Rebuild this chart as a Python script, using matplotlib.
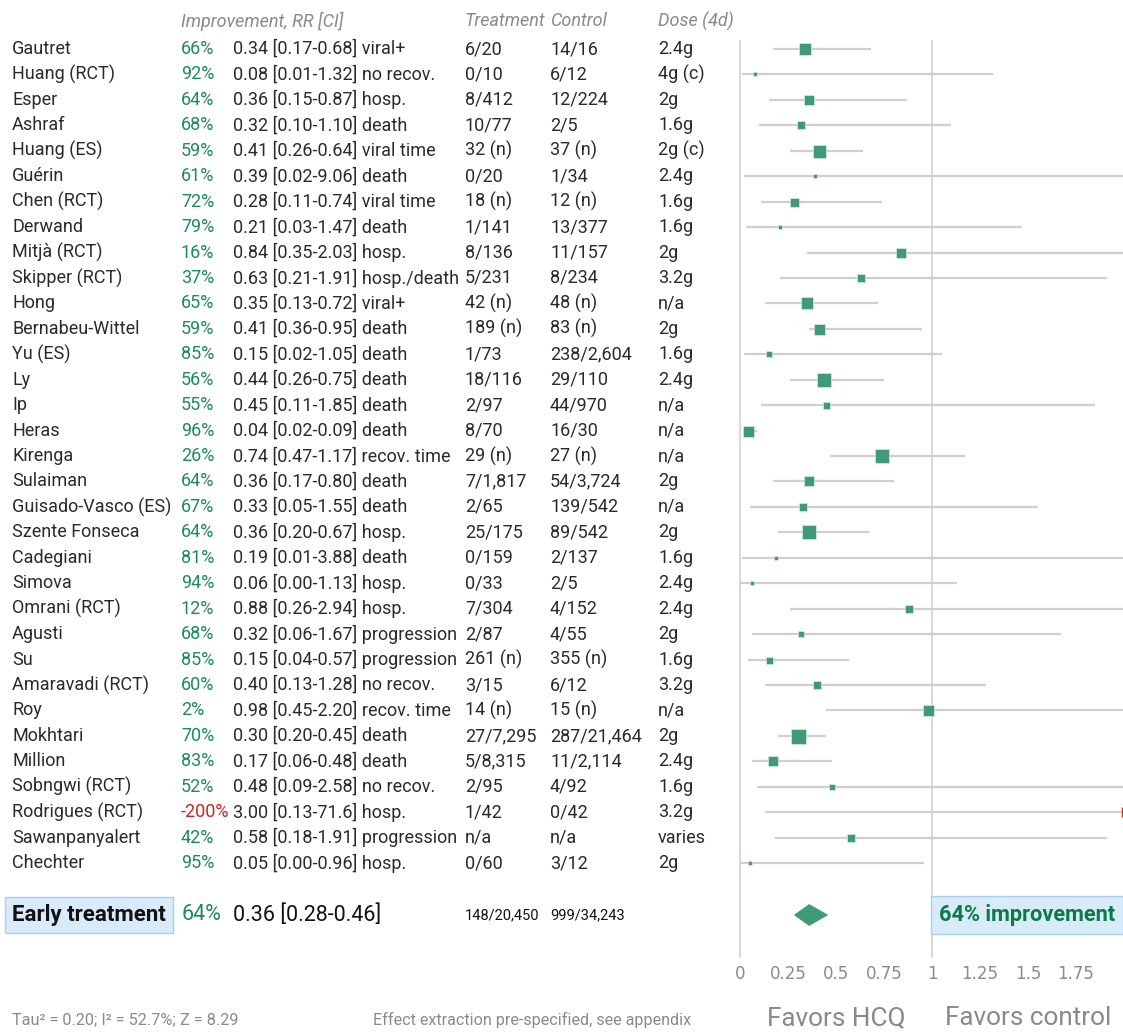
import matplotlib
matplotlib.use("Agg")
import matplotlib.pyplot as plt
import matplotlib.transforms as mtransforms

plt.rcParams["font.family"] = ["Roboto", "DejaVu Sans"]

# study data
studies = ["Gautret", "Huang (RCT)", "Esper", "Ashraf", "Huang (ES)", "Guérin",
           "Chen (RCT)", "Derwand", "Mitjà (RCT)", "Skipper (RCT)", "Hong",
           "Bernabeu-Wittel", "Yu (ES)", "Ly", "Ip", "Heras", "Kirenga", "Sulaiman",
           "Guisado-Vasco (ES)", "Szente Fonseca", "Cadegiani", "Simova",
           "Omrani (RCT)", "Agusti", "Su", "Amaravadi (RCT)", "Roy", "Mokhtari",
           "Million", "Sobngwi (RCT)", "Rodrigues (RCT)", "Sawanpanyalert", "Chechter"]
improvement = [66, 92, 64, 68, 59, 61, 72, 79, 16, 37, 65, 59, 85, 56, 55, 96, 26, 64,
               67, 64, 81, 94, 12, 68, 85, 60, 2, 70, 83, 52, -200, 42, 95]
rr = [0.34, 0.08, 0.36, 0.32, 0.41, 0.39, 0.28, 0.21, 0.84, 0.63, 0.35, 0.41, 0.15,
      0.44, 0.45, 0.04, 0.74, 0.36, 0.33, 0.36, 0.19, 0.06, 0.88, 0.32, 0.15, 0.40,
      0.98, 0.30, 0.17, 0.48, 3.00, 0.58, 0.05]
ci_lo = [0.17, 0.01, 0.15, 0.10, 0.26, 0.02, 0.11, 0.03, 0.35, 0.21, 0.13, 0.36, 0.02,
         0.26, 0.11, 0.02, 0.47, 0.17, 0.05, 0.20, 0.01, 0.00, 0.26, 0.06, 0.04, 0.13,
         0.45, 0.20, 0.06, 0.09, 0.13, 0.18, 0.00]
ci_hi = [0.68, 1.32, 0.87, 1.10, 0.64, 9.06, 0.74, 1.47, 2.03, 1.91, 0.72, 0.95, 1.05,
         0.75, 1.85, 0.09, 1.17, 0.80, 1.55, 0.67, 3.88, 1.13, 2.94, 1.67, 0.57, 1.28,
         2.20, 0.45, 0.48, 2.58, 71.6, 1.91, 0.96]
outcome = ["viral+", "no recov.", "hosp.", "death", "viral time", "death", "viral time",
           "death", "hosp.", "hosp./death", "viral+", "death", "death", "death", "death",
           "death", "recov. time", "death", "death", "hosp.", "death", "hosp.", "hosp.",
           "progression", "progression", "no recov.", "recov. time", "death", "death",
           "no recov.", "hosp.", "progression", "hosp."]
treatment = ["6/20", "0/10", "8/412", "10/77", "32 (n)", "0/20", "18 (n)", "1/141",
             "8/136", "5/231", "42 (n)", "189 (n)", "1/73", "18/116", "2/97", "8/70",
             "29 (n)", "7/1,817", "2/65", "25/175", "0/159", "0/33", "7/304", "2/87",
             "261 (n)", "3/15", "14 (n)", "27/7,295", "5/8,315", "2/95", "1/42", "n/a", "0/60"]
control = ["14/16", "6/12", "12/224", "2/5", "37 (n)", "1/34", "12 (n)", "13/377",
           "11/157", "8/234", "48 (n)", "83 (n)", "238/2,604", "29/110", "44/970",
           "16/30", "27 (n)", "54/3,724", "139/542", "89/542", "2/137", "2/5", "4/152",
           "4/55", "355 (n)", "6/12", "15 (n)", "287/21,464", "11/2,114", "4/92", "0/42",
           "n/a", "3/12"]
dose = ["2.4g", "4g (c)", "2g", "1.6g", "2g (c)", "2.4g", "1.6g", "1.6g", "2g", "3.2g",
        "n/a", "2g", "1.6g", "2.4g", "n/a", "n/a", "n/a", "2g", "n/a", "2g", "1.6g",
        "2.4g", "2.4g", "2g", "1.6g", "3.2g", "n/a", "2g", "2.4g", "1.6g", "3.2g",
        "varies", "2g"]
# marker side (px), stands in for study weight
weight_px = [12, 5, 10, 8, 13, 4, 9, 5, 10, 8, 12, 11, 6, 14, 7, 11, 14, 10, 8, 14,
             4.5, 4.5, 8, 6, 7, 8, 11, 15, 10, 6, 4, 8, 4]

summary_label = "Early treatment"
summary_impr = 64
summary_rr, summary_lo, summary_hi = 0.36, 0.28, 0.46
summary_treat = "148/20,450"
summary_ctrl = "999/34,243"
xticks = [0, 0.25, 0.5, 0.75, 1, 1.25, 1.5, 1.75]
xticklabels = ["0", "0.25", "0.5", "0.75", "1", "1.25", "1.5", "1.75"]

W, H = 1123, 1032
fig = plt.figure(figsize=(W / 100, H / 100), dpi=100)

# forest axes placed in pixel terms
ax_left, ax_right, ax_top, ax_bot = 736, 1123, 40, 958
row0, row_step = 49, 25.44
ax = fig.add_axes([ax_left / W, 1 - ax_bot / H, (ax_right - ax_left) / W, (ax_bot - ax_top) / H])
ax.set_xlim(-(740 - ax_left) / 192, (ax_right - 740) / 192)
ax.set_ylim((ax_bot - row0) / row_step, (ax_top - row0) / row_step)
for s in ax.spines.values():
    s.set_visible(False)
ax.set_yticks([])
ax.set_xticks(xticks)
ax.set_xticklabels(xticklabels, family="DejaVu Sans", fontsize=12, color="#8a8a8a")
ax.tick_params(axis="x", length=0, pad=5)
ax.patch.set_alpha(0)

ax.axvline(0, color="#d6d6d6", lw=1.3, zorder=0)
ax.axvline(1, color="#d6d6d6", lw=1.3, zorder=0)

green = "#3f9b76"
xmax = ax.get_xlim()[1]
for i in range(len(studies)):
    ax.plot([ci_lo[i], ci_hi[i]], [i, i], color="#cfcfcf", lw=1.6, zorder=1,
            solid_capstyle="butt")
    side_pt = weight_px[i] * 0.72
    if rr[i] <= xmax:
        ax.plot(rr[i], i, marker="s", ms=side_pt, color=green, mec="#e8f3ee", mew=0.4,
                zorder=2)
    else:
        ax.plot(xmax, i, marker="|", ms=7, mew=2.5, color="#c0392b", zorder=2,
                clip_on=False)

sum_y = (915 - row0) / row_step
ax.fill([summary_lo, summary_rr, summary_hi, summary_rr],
        [sum_y, sum_y - 0.43, sum_y, sum_y + 0.43], color=green, lw=0, zorder=2)

# text columns: x in figure fraction, y in row units
tr = mtransforms.blended_transform_factory(fig.transFigure, ax.transData)
fx = lambda px: px / W
fy = lambda px: 1 - px / H
txt = "#2a2a2a"
fs = 13
for i in range(len(studies)):
    ax.text(fx(12), i, studies[i], transform=tr, fontsize=fs, color=txt, va="center")
    ax.text(fx(181), i, f"{improvement[i]}%", transform=tr, fontsize=fs, va="center",
            color="#1f8a5c" if improvement[i] > 0 else "#c62828")
    hi_txt = f"{ci_hi[i]:.3g}" if ci_hi[i] >= 10 else f"{ci_hi[i]:.2f}"
    ax.text(fx(233), i, f"{rr[i]:.2f} [{ci_lo[i]:.2f}-{hi_txt}] {outcome[i]}",
            transform=tr, fontsize=fs, color=txt, va="center")
    ax.text(fx(465), i, treatment[i], transform=tr, fontsize=fs, color=txt, va="center")
    ax.text(fx(550), i, control[i], transform=tr, fontsize=fs, color=txt, va="center")
    ax.text(fx(658), i, dose[i], transform=tr, fontsize=fs, color=txt, va="center")

# headers
hdr = dict(fontsize=13, color="#8a8a8a", style="italic", va="center")
fig.text(fx(181), fy(21), "Improvement, RR [CI]", **hdr)
fig.text(fx(465), fy(21), "Treatment", **hdr)
fig.text(fx(550), fy(21), "Control", **hdr)
fig.text(fx(658), fy(21), "Dose (4d)", **hdr)

# summary row
ax.text(fx(12), sum_y, summary_label, transform=tr, fontsize=16, weight="bold",
        color="#111111", va="center",
        bbox=dict(boxstyle="square,pad=0.33", fc="#d9eafb", ec="#a8cff0", lw=1))
ax.text(fx(182), sum_y, f"{summary_impr}%", transform=tr, fontsize=15.5,
        color="#1f8a5c", va="center")
ax.text(fx(233), sum_y, f"{summary_rr:.2f} [{summary_lo:.2f}-{summary_hi:.2f}]",
        transform=tr, fontsize=15.5, color="#111111", va="center")
ax.text(fx(465), sum_y, summary_treat, transform=tr, fontsize=10.5, color="#111111",
        va="center")
ax.text(fx(550), sum_y, summary_ctrl, transform=tr, fontsize=10.5, color="#111111",
        va="center")
ax.text(fx(939), sum_y, f"{summary_impr}% improvement", transform=tr, fontsize=15.7,
        weight="bold", color="#0b7a45", va="center",
        bbox=dict(boxstyle="square,pad=0.35", fc="#d9eafb", ec="#a8cff0", lw=1))

# footer
fig.text(fx(12), fy(1020), "Tau² = 0.20; I² = 52.7%; Z = 8.29", fontsize=11.7,
         color="#8a8a8a", va="center")
fig.text(fx(373), fy(1020), "Effect extraction pre-specified, see appendix",
         fontsize=11.6, color="#8a8a8a", va="center")
fig.text(fx(836), fy(1018), "Favors HCQ", fontsize=18.8, color="#8a8a8a",
         ha="center", va="center")
fig.text(fx(1028), fy(1018), "Favors control", fontsize=18.8, color="#8a8a8a",
         ha="center", va="center")

fig.savefig("out.png", dpi=100)
